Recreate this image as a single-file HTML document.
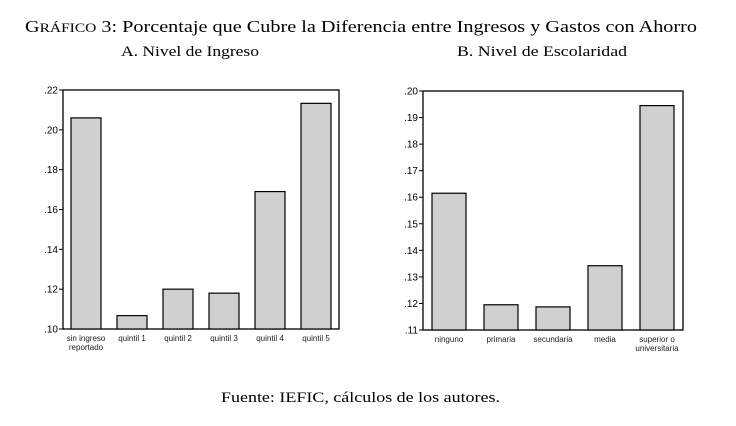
<!DOCTYPE html>
<html><head><meta charset="utf-8"><style>
body{margin:0;background:#fff;}
svg{display:block;}
</style></head><body>
<svg id="s" width="736" height="426" xmlns="http://www.w3.org/2000/svg">
<text x="25" y="32" font-family="Liberation Serif, serif" font-size="17" textLength="672" lengthAdjust="spacingAndGlyphs">G<tspan font-size="13">RÁFICO</tspan> 3: Porcentaje que Cubre la Diferencia entre Ingresos y Gastos con Ahorro</text>
<text x="121" y="56" font-family="Liberation Serif, serif" font-size="15" textLength="138" lengthAdjust="spacingAndGlyphs">A. Nivel de Ingreso</text>
<text x="457" y="56" font-family="Liberation Serif, serif" font-size="15" textLength="170" lengthAdjust="spacingAndGlyphs">B. Nivel de Escolaridad</text>
<text x="221" y="402" font-family="Liberation Serif, serif" font-size="15" textLength="279" lengthAdjust="spacingAndGlyphs">Fuente: IEFIC, cálculos de los autores.</text>
</svg>
<script>
const catsA = [["sin ingreso","reportado"],["quintil 1"],["quintil 2"],["quintil 3"],["quintil 4"],["quintil 5"]];
const valsA = [0.206, 0.1067, 0.120, 0.118, 0.169, 0.2133];
const ticksA = [0.10,0.12,0.14,0.16,0.18,0.20,0.22];
const ticksALabels = [".10",".12",".14",".16",".18",".20",".22"];
const catsB = [["ninguno"],["primaria"],["secundaria"],["media"],["superior o","universitaria"]];
const valsB = [0.1615, 0.1195, 0.1187, 0.1342, 0.1945];
const ticksB = [0.11,0.12,0.13,0.14,0.15,0.16,0.17,0.18,0.19,0.20];
const ticksBLabels = [".11",".12",".13",".14",".15",".16",".17",".18",".19",".20"];

const NS="http://www.w3.org/2000/svg";
const svg=document.getElementById('s');
function mk(t,a){const e=document.createElementNS(NS,t);for(const k in a)e.setAttribute(k,a[k]);svg.appendChild(e);return e;}
function panel(p,cats,vals,ticks,labels,L,R,T,B,ymin,ymax,barW,pre){
  const y=v=>B-(v-ymin)/(ymax-ymin)*(B-T);
  const slot=(R-L)/cats.length;
  const x=i=>L+slot*(i+0.5);
  const fr=mk('rect',{x:L,y:T,width:R-L,height:B-T,fill:'none',stroke:'#000','stroke-width':1.3});
  
  
  ticks.forEach((t,i)=>{
    const ln=mk('line',{x1:L-4,x2:L,y1:y(t),y2:y(t),stroke:'#000','stroke-width':1});
    
    
    const tx=mk('text',{x:L-5,y:y(t)+3.5,'text-anchor':'end','font-family':'Liberation Sans, sans-serif','font-size':10});
    tx.textContent=labels[i];
    
    
  });
  vals.forEach((v,i)=>{
    const r=mk('rect',{x:x(i)-barW/2,y:y(v),width:barW,height:B-y(v),fill:'#d0d0d0',stroke:'#000','stroke-width':1.2});
    
    
    cats[i].forEach((line,j)=>{
      const t=mk('text',{x:x(i),y:B+12+j*9,'text-anchor':'middle','font-family':'Liberation Sans, sans-serif','font-size':8,fill:'#222'});
      t.textContent=line;
      
      
    });
  });
}
panel('a',catsA,valsA,ticksA,ticksALabels,63,339,90,329,0.10,0.22,30,'panel-a');
panel('b',catsB,valsB,ticksB,ticksBLabels,423,683,91,330,0.11,0.20,34,'panel-b');
</script>
</body></html>
